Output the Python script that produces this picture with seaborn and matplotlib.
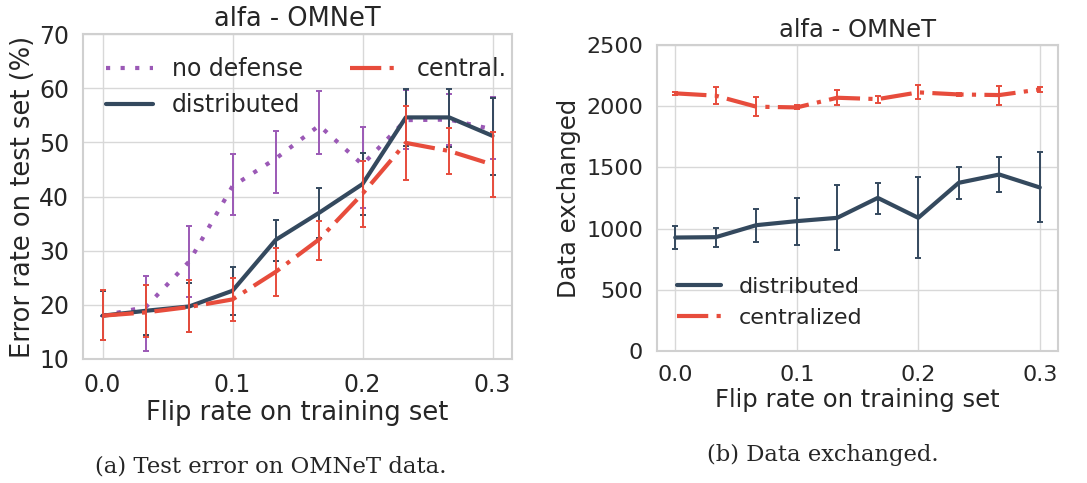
import numpy as np
import pandas as pd
import matplotlib
matplotlib.use("Agg")
import matplotlib.pyplot as plt
import seaborn as sns

# ---- data ----
flip_rate = [0.0, 0.0333, 0.0667, 0.1, 0.1333, 0.1667, 0.2, 0.2333, 0.2667, 0.3]

# (a) test error (%)
err_nodef = [18.0, 19.6, 28.0, 41.9, 47.0, 53.1, 45.9, 54.1, 54.2, 52.4]
err_nodef_lo = [18.0, 11.5, 21.4, 36.5, 40.7, 47.8, 37.8, 48.7, 49.5, 47.0]
err_nodef_hi = [18.0, 25.4, 34.6, 47.8, 52.1, 59.5, 52.8, 59.6, 59.0, 58.3]

err_dist = [18.0, 18.9, 19.7, 22.6, 32.0, 37.0, 42.3, 54.6, 54.6, 51.2]
err_dist_lo = [13.5, 14.4, 15.0, 18.2, 28.1, 32.4, 36.5, 49.3, 49.1, 44.0]
err_dist_hi = [22.6, 23.7, 24.0, 27.0, 35.7, 41.6, 48.1, 59.9, 59.9, 58.1]

err_cent = [18.0, 18.6, 19.6, 21.0, 26.1, 32.1, 40.5, 49.9, 48.4, 45.9]
err_cent_lo = [13.5, 14.0, 14.9, 17.1, 21.7, 28.2, 34.4, 43.0, 44.1, 39.9]
err_cent_hi = [22.7, 23.6, 24.6, 24.9, 30.5, 35.4, 46.5, 56.7, 52.7, 51.9]

# (b) data exchanged
data_dist = [927, 930, 1028, 1061, 1088, 1251, 1088, 1374, 1442, 1336]
data_dist_lo = [834, 851, 894, 864, 823, 1123, 758, 1238, 1295, 1052]
data_dist_hi = [1020, 1006, 1161, 1251, 1355, 1374, 1423, 1505, 1587, 1622]

data_cent = [2105, 2086, 1996, 1990, 2069, 2058, 2113, 2096, 2091, 2137]
data_cent_lo = [2090, 2017, 1922, 1974, 2007, 2028, 2058, 2083, 2009, 2118]
data_cent_hi = [2118, 2154, 2072, 2007, 2132, 2083, 2173, 2110, 2165, 2156]

title = "alfa - OMNeT"
xlabel = "Flip rate on training set"

C_PURPLE = "#9b59b6"
C_DARK = "#34495e"
C_RED = "#e74c3c"

LS_DOT = (0, (1, 2.5))
LS_DASHDOT = (0, (7.5, 2, 1, 2))

sns.set_theme(style="whitegrid")
plt.rcParams["font.family"] = ["DejaVu Sans"]
plt.rcParams["axes.edgecolor"] = "#d0d0d0"
plt.rcParams["grid.color"] = "#d8d8d8"

fig = plt.figure(figsize=(10.87, 4.83), dpi=100)
ax1 = fig.add_axes([83/1087, 1-359/483, 429/1087, 325/483])
ax2 = fig.add_axes([657/1087, 1-351/483, 401/1087, 306/483])


def draw(ax, x, y, lo, hi, color, ls, label, z):
    df = pd.DataFrame({"x": x, "y": y})
    sns.lineplot(data=df, x="x", y="y", ax=ax, color=color, linestyle=ls,
                 linewidth=3, label=label, zorder=z)
    y = np.asarray(y, float)
    yerr = np.vstack([y - np.asarray(lo, float), np.asarray(hi, float) - y])
    ax.errorbar(x, y, yerr=yerr, fmt="none", ecolor=color, elinewidth=1.4,
                capsize=2, capthick=1.4, zorder=z)


# ---- (a) ----
draw(ax1, flip_rate, err_nodef, err_nodef_lo, err_nodef_hi, C_PURPLE, LS_DOT, "no defense", 2)
draw(ax1, flip_rate, err_dist, err_dist_lo, err_dist_hi, C_DARK, "-", "distributed", 3)
draw(ax1, flip_rate, err_cent, err_cent_lo, err_cent_hi, C_RED, LS_DASHDOT, "central.", 4)
ax1.set_ylim(10, 70)
ax1.set_xlim(-0.015, 0.315)
ax1.set_yticks([10, 20, 30, 40, 50, 60, 70])
ax1.set_xticks([0.0, 0.1, 0.2, 0.3])
ax1.set_xticklabels(["0.0", "0.1", "0.2", "0.3"])
ax1.tick_params(labelsize=17, pad=4)
ax1.set_title(title, fontsize=18.5, pad=6)
ax1.set_xlabel(xlabel, fontsize=18.5, labelpad=2)
ax1.set_ylabel("Error rate on test set (%)", fontsize=18.5, labelpad=2)
ax1.legend(loc="upper left", ncol=2, frameon=False, fontsize=17,
           bbox_to_anchor=(0.015, 0.98), borderaxespad=0.3, labelspacing=0.5)

# ---- (b) ----
draw(ax2, flip_rate, data_dist, data_dist_lo, data_dist_hi, C_DARK, "-", "distributed", 3)
draw(ax2, flip_rate, data_cent, data_cent_lo, data_cent_hi, C_RED, LS_DASHDOT, "centralized", 4)
ax2.set_ylim(0, 2500)
ax2.set_xlim(-0.015, 0.315)
ax2.set_yticks([0, 500, 1000, 1500, 2000, 2500])
ax2.set_xticks([0.0, 0.1, 0.2, 0.3])
ax2.set_xticklabels(["0.0", "0.1", "0.2", "0.3"])
ax2.tick_params(labelsize=16, pad=4)
ax2.set_title(title, fontsize=17.5, pad=6)
ax2.set_xlabel(xlabel, fontsize=17.5, labelpad=2)
ax2.set_ylabel("Data exchanged", fontsize=17.5, labelpad=4)
ax2.legend(loc="lower left", frameon=False, fontsize=16,
           bbox_to_anchor=(0.0, 0.011), labelspacing=0.5)

for ax in (ax1, ax2):
    for s in ax.spines.values():
        s.set_color("#d0d0d0")
        s.set_linewidth(1.5)

# captions
fig.text(271/1087, 1-466/483, "(a) Test error on OMNeT data.", ha="center", va="center",
         fontsize=16.4, family=["DejaVu Serif"])
fig.text(823/1087, 1-455/483, "(b) Data exchanged.", ha="center", va="center",
         fontsize=16.3, family=["DejaVu Serif"])

fig.savefig("out.png", dpi=100)
